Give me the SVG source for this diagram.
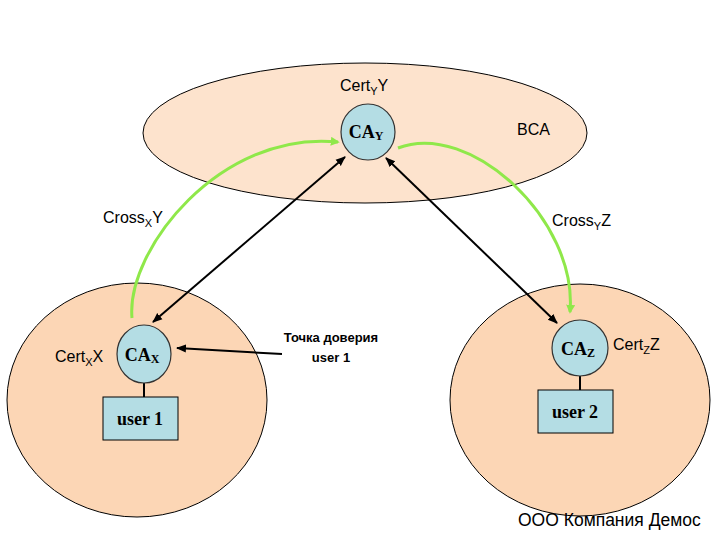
<svg xmlns="http://www.w3.org/2000/svg" width="720" height="540" viewBox="0 0 720 540">
<defs>
<marker id="ab" viewBox="0 0 10 10" refX="9" refY="5" markerWidth="10" markerHeight="10" markerUnits="userSpaceOnUse" orient="auto-start-reverse"><path d="M0,1 L10,5 L0,9 Z" fill="#000"/></marker>
<marker id="ag" viewBox="0 0 10 10" refX="8" refY="5" markerWidth="9" markerHeight="9" markerUnits="userSpaceOnUse" orient="auto"><path d="M0,0 L10,5 L0,10 Z" fill="#8fe84a"/></marker>
<style>
.dom{stroke:#000;stroke-width:1}
.ca{fill:#b4dde4;stroke:#333;stroke-width:1.2}
.box{fill:#b4dde4;stroke:#000;stroke-width:1}
.t{font-family:"Liberation Sans",Arial,sans-serif;font-size:16px;fill:#000}
.s{font-size:11px}
.b13{font-size:13px;font-weight:bold}
.cat{font-family:"Liberation Serif","Times New Roman",serif;font-weight:bold;font-size:18px;fill:#000}
.cas{font-size:12px}
.blk{stroke:#000;stroke-width:2;fill:none}
.grn{stroke:#8fe84a;stroke-width:3;fill:none}
</style>
</defs>
<g id="domain-bca"><ellipse class="dom" cx="365" cy="133" rx="222" ry="70" fill="#fde3cd"/></g>
<g id="domain-x"><ellipse class="dom" cx="137" cy="400" rx="130" ry="117" fill="#fcd6b5"/></g>
<g id="domain-z"><ellipse class="dom" cx="580" cy="400" rx="130" ry="116" fill="#fcd6b5"/></g>

<g id="connectors">
<line class="blk" x1="153" y1="322" x2="345" y2="157" marker-start="url(#ab)" marker-end="url(#ab)"/>
<line class="blk" x1="386" y1="158" x2="557" y2="323" marker-start="url(#ab)" marker-end="url(#ab)"/>
<line class="blk" x1="282" y1="354" x2="177" y2="348" marker-end="url(#ab)"/>
<line stroke="#000" stroke-width="2" x1="144" y1="383" x2="144" y2="397"/>
<line stroke="#000" stroke-width="2" x1="580" y1="376" x2="580" y2="390"/>
<path class="grn" d="M132,318 C126,250 220,130 338,142" marker-end="url(#ag)"/>
<path class="grn" d="M398,148 C470,120 578,220 570,312" marker-end="url(#ag)"/>
</g>

<g id="ca-y"><ellipse class="ca" cx="368" cy="132" rx="27" ry="28"/><text class="cat" x="366" y="138" text-anchor="middle">CA<tspan class="cas" dy="2">Y</tspan></text></g>
<g id="ca-x"><ellipse class="ca" cx="144" cy="354" rx="27" ry="29"/><text class="cat" x="142" y="361" text-anchor="middle">CA<tspan class="cas" dy="2">X</tspan></text></g>
<g id="ca-z"><ellipse class="ca" cx="580" cy="348" rx="28" ry="28"/><text class="cat" x="578" y="355" text-anchor="middle">CA<tspan class="cas" dy="2">Z</tspan></text></g>
<g id="user1"><rect class="box" x="103" y="397" width="75" height="43"/><text class="cat" x="140" y="425" text-anchor="middle">user 1</text></g>
<g id="user2"><rect class="box" x="538" y="390" width="75" height="43"/><text class="cat" x="575" y="418" text-anchor="middle">user 2</text></g>

<g id="labels">
<text class="t" x="340" y="91">Cert<tspan class="s" dy="4">Y</tspan><tspan dy="-4">Y</tspan></text>
<text class="t" x="517" y="135">BCA</text>
<text class="t" x="103" y="223">Cross<tspan class="s" dy="4">X</tspan><tspan dy="-4">Y</tspan></text>
<text class="t" x="552" y="226">Cross<tspan class="s" dy="4">Y</tspan><tspan dy="-4">Z</tspan></text>
<text class="t" x="55" y="362">Cert<tspan class="s" dy="4">X</tspan><tspan dy="-4">X</tspan></text>
<text class="t" x="613" y="350">Cert<tspan class="s" dy="4">Z</tspan><tspan dy="-4">Z</tspan></text>
<text class="t b13" x="331" y="342" text-anchor="middle">Точка доверия</text>
<text class="t b13" x="331" y="362" text-anchor="middle">user 1</text>
<text class="t" x="518" y="526" style="font-size:17.5px">ООО Компания Демос</text>
</g>
</svg>
